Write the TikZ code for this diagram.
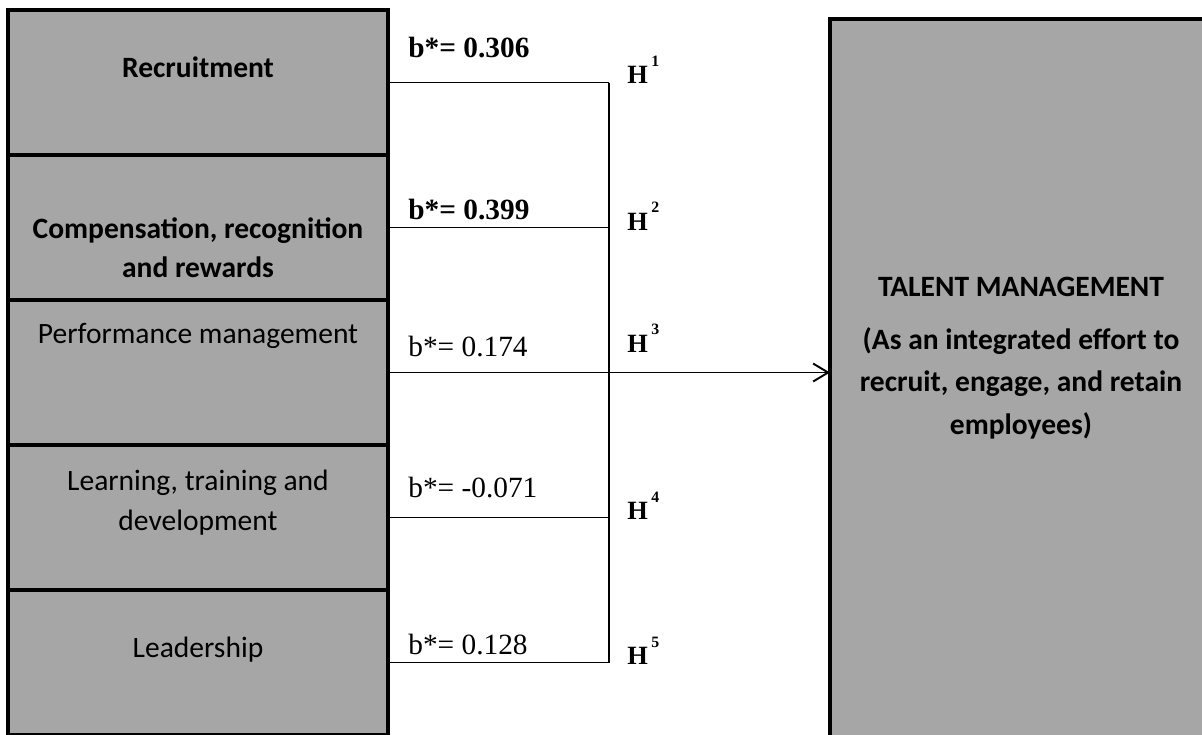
\documentclass[tikz,border=0pt]{standalone}
\usepackage{fontspec}
\setmainfont{Liberation Serif}
\newfontfamily\boxfont{Carlito}
\usepackage{tikz}
\usetikzlibrary{arrows.meta,calc}
\usetikzlibrary{positioning}

\definecolor{boxgray}{RGB}{166,166,166}
\newcommand{\hyp}[1]{\textbf{H}\kern2pt\raisebox{1.45ex}{\fontsize{9}{9}\selectfont\bfseries #1}}

\begin{document}
\begin{tikzpicture}[>={Straight Barb[length=3mm,width=3.6mm]},line join=miter,
  factor/.style={draw,line width=2.8pt,fill=boxgray,minimum width=7.6cm,minimum height=2.9cm,outer sep=0pt,inner sep=0pt},
  ftext/.style={font=\boxfont\fontsize{16.8}{22.5}\selectfont,align=center},
  coef/.style={anchor=west,font=\fontsize{16.7}{18}\selectfont,inner sep=0pt},
  hlab/.style={anchor=west,font=\fontsize{15}{17}\selectfont,inner sep=0pt},
  link/.style={line width=1.1pt}]
\useasboundingbox (0,0) rectangle (24.04,-14.68);
\clip (0,0) rectangle (24.04,-14.68);
% predictor boxes
\node[factor] (r1) at (3.96,-1.65) {};
\node[factor,below=0pt of r1] (r2) {};
\node[factor,below=0pt of r2] (r3) {};
\node[factor,below=0pt of r3] (r4) {};
\node[factor,below=0pt of r4] (r5) {};
\node[ftext,font=\boxfont\bfseries\fontsize{16.8}{22.5}\selectfont] (t1) at ([yshift=0.31cm]r1.center) {Recruitment};
\node[ftext,font=\boxfont\bfseries\fontsize{16.8}{22.5}\selectfont] (t2) at ([yshift=-0.40cm]r2.center) {Compensation, recognition\\and rewards};
\node[ftext] (t3) at ([yshift=0.74cm]r3.center) {Performance management};
\node[ftext] (t4) at ([yshift=0.30cm]r4.center) {Learning, training and\\development};
\node[ftext] (t5) at ([yshift=0.26cm]r5.center) {Leadership};
% outcome box
\node[factor,minimum width=7.64cm,minimum height=14.5cm] (tm) at (20.42,-7.63) {};
\node[ftext,font=\boxfont\bfseries\fontsize{16.8}{24}\selectfont] (tmlabel) at ([yshift=0.47cm]tm.center) {TALENT MANAGEMENT\\[0.22cm](As an integrated effort to\\recruit, engage, and retain\\employees)};
% connectors
\coordinate (spine) at (12.18,0);
\foreach \i in {1,...,5}
  \draw[link] (r\i.east) -- (r\i.east -| spine) coordinate (j\i);
\draw[link] (j1) -- (j5);
\draw[link,->] (j3) -- (j3 -| tm.west);
% coefficients
\node[coef,font=\bfseries\fontsize{16.7}{18}\selectfont] (b1) at (8.16,-0.96) {b*= 0.306};
\node[coef,font=\bfseries\fontsize{16.7}{18}\selectfont] (b2) at (8.16,-4.20) {b*= 0.399};
\node[coef] (b3) at (8.16,-6.94) {b*= 0.174};
\node[coef] (b4) at (8.16,-9.76) {b*= -0.071};
\node[coef] (b5) at (8.16,-12.90) {b*= 0.128};
% hypotheses
\node[hlab] (h1) at (12.54,-1.40) {\hyp{1}};
\node[hlab] (h2) at (12.54,-4.32) {\hyp{2}};
\node[hlab] (h3) at (12.54,-6.76) {\hyp{3}};
\node[hlab] (h4) at (12.54,-10.12) {\hyp{4}};
\node[hlab] (h5) at (12.54,-13.02) {\hyp{5}};
\end{tikzpicture}
\end{document}
